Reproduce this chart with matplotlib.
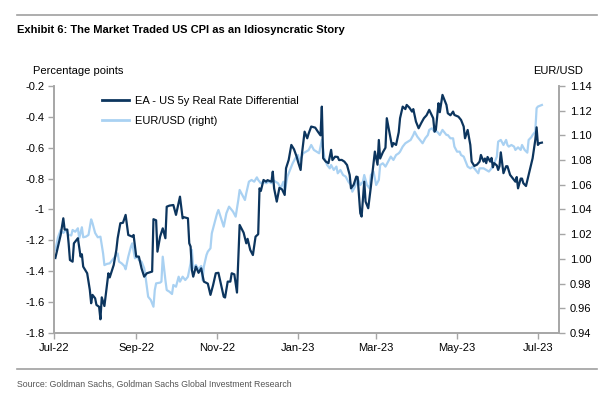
import pandas as pd
import matplotlib
matplotlib.use("Agg")
import matplotlib.pyplot as plt
import matplotlib.dates as mdates
from matplotlib.lines import Line2D
from matplotlib.ticker import FuncFormatter, MultipleLocator

start = pd.Timestamp("2022-07-01")

# EA - US 5y real rate differential (pp), days after 1 Jul 2022
diff_days = [1, 5, 7, 8, 10, 11, 12, 14, 15, 18, 20, 21, 22, 25, 27, 28, 29, 31, 32, 34,
             35, 36, 38, 41, 42, 45, 47, 48, 50, 52, 54, 56, 59, 60, 62, 64, 66, 68, 70, 74,
             75, 77, 78, 80, 82, 84, 85, 87, 90, 92, 95, 97, 98, 101, 102, 103, 104, 105, 107, 109,
             111, 113, 116, 118, 120, 122, 124, 126, 128, 129, 131, 133, 134, 136, 138, 140, 143, 145, 146, 148,
             150, 152, 154, 155, 156, 158, 160, 161, 164, 165, 166, 168, 170, 172, 174, 175, 177, 179, 181, 183,
             184, 186, 187, 189, 191, 192, 194, 197, 199, 201, 202, 203, 205, 207, 209, 210, 212, 214, 215, 217,
             219, 221, 223, 224, 226, 228, 229, 231, 232, 234, 235, 237, 239, 240, 242, 244, 245, 246, 248, 250,
             251, 253, 255, 256, 258, 260, 261, 263, 265, 266, 268, 270, 271, 273, 275, 277, 279, 281, 283, 286,
             287, 288, 290, 291, 293, 296, 297, 299, 301, 302, 305, 307, 309, 310, 312, 314, 315, 317, 319, 321,
             322, 324, 325, 326, 327, 329, 330, 331, 332, 334, 335, 336, 337, 339, 341, 342, 344, 346, 348, 349,
             350, 352, 353, 354, 356, 358, 360, 361, 363, 364, 365, 366, 368]
diff_vals = [-1.314, -1.165, -1.057, -1.13, -1.13, -1.219, -1.327, -1.338, -1.219, -1.186, -1.305, -1.29, -1.37, -1.413, -1.521, -1.607, -1.553, -1.575, -1.618, -1.63,
             -1.711, -1.569, -1.625, -1.413, -1.44, -1.36, -1.262, -1.186, -1.089, -1.086, -1.035, -1.165, -1.176, -1.165, -1.305, -1.305, -1.381, -1.435, -1.413, -1.402,
             -1.063, -1.07, -1.273, -1.176, -1.122, -1.186, -0.982, -0.975, -0.971, -1.035, -0.917, -1.057, -1.05, -1.057, -1.219, -1.24, -1.392, -1.435, -1.37, -1.41,
             -1.381, -1.467, -1.48, -1.553, -1.489, -1.413, -1.41, -1.489, -1.565, -1.57, -1.467, -1.467, -1.413, -1.42, -1.538, -1.10, -1.15, -1.219, -1.19, -1.262,
             -1.295, -1.176, -1.16, -0.863, -0.88, -0.809, -0.82, -0.81, -0.82, -0.755, -0.863, -0.949, -0.86, -0.87, -0.906, -0.733, -0.679, -0.582, -0.61, -0.658,
             -0.69, -0.744, -0.64, -0.496, -0.539, -0.51, -0.463, -0.47, -0.496, -0.52, -0.334, -0.668, -0.69, -0.70, -0.614, -0.68, -0.658, -0.66, -0.68, -0.679,
             -0.69, -0.712, -0.776, -0.863, -0.84, -0.787, -0.79, -1.024, -1.046, -0.82, -0.949, -0.992, -0.852, -0.776, -0.625, -0.71, -0.55, -0.67, -0.63, -0.60,
             -0.409, -0.50, -0.593, -0.57, -0.582, -0.50, -0.409, -0.334, -0.35, -0.323, -0.34, -0.366, -0.35, -0.431, -0.474, -0.44, -0.409, -0.39, -0.355, -0.409,
             -0.496, -0.485, -0.312, -0.37, -0.258, -0.323, -0.377, -0.39, -0.366, -0.388, -0.399, -0.42, -0.463, -0.539, -0.485, -0.582, -0.69, -0.718, -0.71, -0.69,
             -0.647, -0.69, -0.67, -0.70, -0.66, -0.69, -0.666, -0.727, -0.70, -0.715, -0.744, -0.72, -0.63, -0.765, -0.72, -0.72, -0.776, -0.798, -0.82, -0.79,
             -0.863, -0.80, -0.80, -0.83, -0.848, -0.775, -0.70, -0.668, -0.55, -0.468, -0.582, -0.571, -0.567]

# EUR/USD, days after 1 Jul 2022
fx_days = [1, 3, 5, 7, 9, 11, 13, 14, 16, 18, 19, 21, 22, 24, 26, 28, 29, 31, 33, 35,
           37, 38, 40, 42, 44, 46, 48, 49, 51, 53, 54, 56, 58, 59, 61, 63, 64, 66, 68, 69,
           71, 73, 75, 76, 77, 80, 81, 82, 84, 85, 87, 89, 90, 92, 94, 95, 97, 99, 101, 103,
           104, 105, 107, 109, 111, 112, 113, 115, 116, 118, 119, 121, 123, 124, 126, 128, 130, 132, 133, 135,
           137, 139, 140, 142, 144, 145, 147, 149, 151, 153, 154, 156, 158, 160, 162, 164, 165, 167, 169, 171,
           173, 174, 176, 178, 180, 182, 184, 185, 188, 190, 192, 194, 196, 198, 200, 202, 204, 206, 208, 209,
           211, 213, 214, 216, 218, 220, 222, 224, 225, 227, 229, 231, 233, 234, 236, 238, 239, 241, 243, 245,
           246, 248, 250, 252, 254, 256, 258, 260, 261, 263, 265, 267, 269, 271, 272, 274, 276, 278, 280, 282,
           283, 285, 287, 289, 291, 293, 296, 297, 299, 301, 302, 304, 306, 307, 309, 310, 312, 314, 316, 317,
           320, 321, 324, 326, 328, 330, 332, 334, 335, 337, 339, 341, 342, 343, 345, 347, 348, 350, 352, 353,
           355, 357, 358, 360, 361, 363, 364, 365, 368]
fx_vals = [1.0072, 1.0175, 1.0234, 1.021, 1.0234, 1.0194, 1.019, 1.0234, 1.022, 1.0248, 1.0167, 1.0256, 1.0175, 1.018, 1.0194, 1.032, 1.029, 1.021, 1.0175, 1.018,
           1.0045, 0.995, 0.996, 0.9964, 0.9991, 1.0018, 1.0045, 0.9978, 0.9964, 0.9943, 0.9916, 1.0018, 1.0099, 1.0126, 1.0005, 1.0018, 0.999, 0.9978, 0.9924, 0.9856,
           0.9694, 0.9667, 0.9613, 0.9748, 0.9802, 0.9808, 0.9816, 1.0018, 0.9829, 0.9748, 0.9735, 0.9716, 0.9789, 0.9775, 0.9856, 0.9816, 0.9856, 0.9829, 0.9856, 0.9964,
           1.0072, 0.9924, 0.9951, 0.9916, 0.9943, 0.9829, 0.9937, 1.0032, 1.0059, 1.0086, 1.0207, 1.0288, 1.0369, 1.0396, 1.0329, 1.0261, 1.0369, 1.0423, 1.041, 1.0383,
           1.0342, 1.0477, 1.0558, 1.0518, 1.0477, 1.0531, 1.0625, 1.0639, 1.0625, 1.066, 1.0639, 1.0612, 1.0625, 1.0612, 1.0625, 1.0612, 1.0639, 1.0625, 1.0612, 1.0572,
           1.0625, 1.0544, 1.0666, 1.072, 1.0774, 1.0814, 1.0841, 1.0787, 1.0855, 1.0868, 1.088, 1.0922, 1.0882, 1.0868, 1.0855, 1.0963, 1.0815, 1.076, 1.0733, 1.076,
           1.072, 1.0747, 1.0693, 1.072, 1.0679, 1.0666, 1.0625, 1.0598, 1.0544, 1.0585, 1.0652, 1.0598, 1.0625, 1.0679, 1.0598, 1.0572, 1.0679, 1.0706, 1.0598, 1.0639,
           1.076, 1.0774, 1.0747, 1.0787, 1.0828, 1.0801, 1.0841, 1.0855, 1.0868, 1.0909, 1.0936, 1.0949, 1.0963, 1.1003, 1.103, 1.099, 1.0963, 1.0936, 1.0976, 1.1003,
           1.1044, 1.1057, 1.103, 1.103, 1.1003, 1.1044, 1.1003, 1.1003, 1.0976, 1.0976, 1.0909, 1.0868, 1.0868, 1.0841, 1.0828, 1.0801, 1.0747, 1.0733, 1.0747, 1.0733,
           1.0693, 1.0733, 1.0733, 1.072, 1.0707, 1.0733, 1.0774, 1.0828, 1.0949, 1.0963, 1.0922, 1.0963, 1.0922, 1.0909, 1.0922, 1.0909, 1.0882, 1.0903, 1.0882, 1.0922,
           1.0882, 1.086, 1.0963, 1.0985, 1.1003, 1.103, 1.122, 1.1233, 1.1246]

title = "Exhibit 6: The Market Traded US CPI as an Idiosyncratic Story"
source = "Source: Goldman Sachs, Goldman Sachs Global Investment Research"
label_diff = "EA - US 5y Real Rate Differential"
label_fx = "EUR/USD (right)"

dark = "#0c355e"
light = "#a9d1f2"
spine_c = "#a6a6a6"

plt.rcParams["font.family"] = ["Liberation Sans", "DejaVu Sans"]

diff_dates = start + pd.to_timedelta(diff_days, unit="D")
fx_dates = start + pd.to_timedelta(fx_days, unit="D")

fig = plt.figure(figsize=(6.14, 3.96), dpi=100)
ax = fig.add_axes([0.088, 0.159, 0.822, 0.624])
ax2 = ax.twinx()
ax.set_zorder(ax2.get_zorder() + 1)
ax.patch.set_visible(False)

ax2.plot(fx_dates, fx_vals, color=light, lw=1.6)
ax.plot(diff_dates, diff_vals, color=dark, lw=1.6)

ax.set_ylim(-1.8, -0.2)
ax2.set_ylim(0.94, 1.14)
ax.set_xlim(start, start + pd.Timedelta(days=380.7))
ax.yaxis.set_major_locator(MultipleLocator(0.2))
ax.yaxis.set_major_formatter(FuncFormatter(lambda v, p: f"{v:g}"))
ax2.yaxis.set_major_locator(MultipleLocator(0.02))
ax2.yaxis.set_major_formatter(FuncFormatter(lambda v, p: f"{v:.2f}"))
ax.xaxis.set_major_locator(mdates.MonthLocator(bymonth=[1, 3, 5, 7, 9, 11]))
ax.xaxis.set_major_formatter(mdates.DateFormatter("%b-%y"))

for a in (ax, ax2):
    a.spines["top"].set_visible(False)
    for s in ("left", "right", "bottom"):
        a.spines[s].set_color(spine_c)
        a.spines[s].set_linewidth(1.2)
    a.tick_params(colors=spine_c, labelcolor="black", labelsize=8, length=4, width=1)
ax.tick_params(axis="x", pad=3)
ax.tick_params(axis="y", pad=3)
ax2.tick_params(axis="y", pad=4)

handles = [Line2D([], [], color=dark, lw=2), Line2D([], [], color=light, lw=2)]
ax.legend(handles, [label_diff, label_fx], loc="upper left", bbox_to_anchor=(0.095, 0.96),
          frameon=False, fontsize=8, handlelength=2.4, handletextpad=0.6,
          borderaxespad=0, borderpad=0, labelspacing=0.95)

fig.text(0.054, 0.82, "Percentage points", fontsize=8, va="center")
fig.text(0.95, 0.82, "EUR/USD", fontsize=8, va="center", ha="right")

fig.add_artist(Line2D([0.028, 0.972], [0.962, 0.962], color="#a0a0a0", lw=1.2))
fig.text(0.028, 0.925, title, fontsize=8, fontweight="bold", va="center")
fig.add_artist(Line2D([0.028, 0.972], [0.068, 0.068], color="#a0a0a0", lw=1.2))
fig.text(0.028, 0.03, source, fontsize=6.3, color="#555555", va="center")

fig.savefig("out.png", dpi=100)
